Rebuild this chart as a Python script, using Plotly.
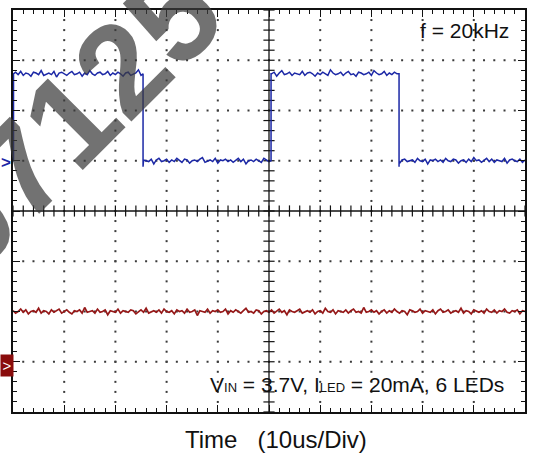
import plotly.graph_objects as go

# Screen: 10 horizontal divisions of 10 us, 8 vertical divisions
t_span = [0, 100]          # us
div_span = [-4, 4]         # divisions

# CH1: PWM input (levels in divisions, edge times in us)
pwm_ground = 1.0
pwm_high = 2.73
pwm_edges = [0.1, 25.4, 50.4, 75.4]      # rise, fall, rise, fall
pwm_undershoot = 0.12

# CH2: LED current
iled_ground = -3.0
iled_level = -2.0

# Acquisition noise in counts (1 count = ripple_unit divisions), evenly spaced in time
ripple_unit = 0.016
pwm_ripple = [
    0, 2, -1, 3, -2, 1, 0, -3, 2, 1, -1, 4, -2, 0, 1, -1, 3, -4, 1, 2,
    0, -2, 1, 3, -1, 0, 2, -3, 1, -1, 4, 0, -2, 1, 2, -1, 0, 3, -2, 1,
    -1, 2, 0, -3, 1, 2, -2, 0, 1, 5, -2, 1, 0, -1, 2, -4, 1, 3, -1, 0,
    2, -2, 1, -1, 3, 0, -2, 2, 1, -3, 0, 1, -1, 2, 4, -2, 0, 1, -1, 3,
    -3, 1, 0, 2, -1, 1, -2, 0, 3, -1, 2, -4, 0, 1, -1, 2, 0, -2, 3, 1,
    -1, 0, 2, -3, 1, 4, -1, 0, 2, -2, 1, 0, -1, 3, -2, 1, 2, 0, -3, 1,
    -1, 2, 0, -2, 5, 1, -1, 0, 2, -2, 1, 3, -1, 0, -3, 2, 1, -1, 0, 2,
    -2, 4, 1, -1, 0, 3, -2, 1, -1, 2, 0, -3, 1, 2, -1, 0, 1, -2, 3, 0,
    -1, 2, -4, 1, 0, 2, -1, 1, -2, 3, 0, -1, 2, 1, -3, 0, 1, -2, 2, -1,
    4, 0, 1, -2, 0, 3, -1, 2, -2, 1, 0, -1, 3, -3, 1, 2, 0, -1, 2, -2, 1,
]
iled_ripple = [
    1, -2, 0, 3, -1, 2, -3, 0, 1, -1, 4, -2, 1, 0, -3, 2, -1, 1, 3, -2,
    0, 2, -1, -3, 1, 0, 2, -2, 5, -1, 0, 1, -2, 3, -1, 0, 2, -4, 1, 0,
    -1, 3, -2, 1, 0, -1, 2, 1, -3, 0, 2, -1, 4, -2, 0, 1, -1, 2, -2, 3,
    0, -1, 1, -3, 2, 0, 1, -2, 3, -1, 0, 2, -5, 1, 0, -1, 3, -2, 1, 0,
    2, -1, 0, 3, -3, 1, -1, 2, 0, -2, 1, 4, -1, 0, -2, 2, 1, -3, 0, 1,
    -1, 2, -2, 0, 3, -1, 1, -4, 2, 0, -1, 1, 3, -2, 0, 1, -1, 2, -3, 0,
    1, -2, 4, 0, -1, 2, -3, 1, 0, -1, 2, -2, 1, 3, -1, 0, -2, 5, -1, 0,
    2, -1, 1, -3, 0, 2, -2, 1, -1, 3, 0, -2, 1, 0, -4, 2, 1, -1, 0, 3,
    -2, 1, 0, -1, 2, -3, 1, 3, -1, 0, 2, -2, 0, 1, -1, 4, -2, 1, 0, -3,
    2, 0, -1, 1, -2, 3, 0, -1, 2, -2, 1, 0, 3, -1, -2, 1, 0, 2, -3, 1, 0,
]

PWM_BLUE = "#1c28a6"
ILED_RED = "#961818"
GRID = "#3a3a3a"
FONT = "Liberation Sans, Arial, Helvetica, sans-serif"
MARK_FONT = "Liberation Sans Narrow, Arial Narrow, Liberation Sans, sans-serif"


def sample_times(n):
    return [t_span[0] + (t_span[1] - t_span[0]) * i / (n - 1) for i in range(n)]


# --- CH1 square wave with its edges ---
pwm_t, pwm_v = [], []
edge_i = 0
level = pwm_ground
for t, r in zip(sample_times(len(pwm_ripple)), pwm_ripple):
    while edge_i < len(pwm_edges) and pwm_edges[edge_i] <= t:
        te = pwm_edges[edge_i]
        rising = edge_i % 2 == 0
        new_level = pwm_high if rising else pwm_ground
        pwm_t += [te, te]
        pwm_v += [level, new_level if rising else new_level - pwm_undershoot]
        if not rising:
            pwm_t.append(te)
            pwm_v.append(new_level)
        level = new_level
        edge_i += 1
    pwm_t.append(t)
    pwm_v.append(level + r * ripple_unit)

# --- CH2 flat LED current ---
iled_t = sample_times(len(iled_ripple))
iled_v = [iled_level + r * ripple_unit for r in iled_ripple]

fig = go.Figure()

# Dotted graticule: dots every minor division along the major lines
dot_x, dot_y = [], []
minor_t = [t_span[0] + 2 * k for k in range(51)]
minor_d = [div_span[0] + 0.2 * k for k in range(41)]
for d in (-3, -2, -1, 1, 2, 3):
    for t in minor_t[1:-1]:
        dot_x.append(t)
        dot_y.append(d)
for t in (10, 20, 30, 40, 60, 70, 80, 90):
    for d in minor_d[1:-1]:
        dot_x.append(t)
        dot_y.append(d)
fig.add_trace(go.Scatter(
    x=dot_x, y=dot_y, mode="markers",
    marker=dict(symbol="square", size=2, color=GRID, line=dict(width=0)),
    hoverinfo="skip", showlegend=False,
))

# Centre cross with tick marks
fig.add_shape(type="line", x0=50, x1=50, y0=div_span[0], y1=div_span[1],
              xref="x", yref="y", line=dict(color="#111", width=1.3))
fig.add_shape(type="line", x0=t_span[0], x1=t_span[1], y0=0, y1=0,
              xref="x", yref="y", line=dict(color="#111", width=1.3))
fig.add_trace(go.Scatter(
    x=minor_t, y=[0] * len(minor_t), mode="markers",
    marker=dict(symbol="line-ns", size=8, line=dict(width=1.2, color="#111")),
    hoverinfo="skip", showlegend=False,
))
fig.add_trace(go.Scatter(
    x=[50] * len(minor_d), y=minor_d, mode="markers",
    marker=dict(symbol="line-ew", size=8, line=dict(width=1.2, color="#111")),
    hoverinfo="skip", showlegend=False,
))

# Channel traces
fig.add_trace(go.Scatter(
    x=pwm_t, y=pwm_v, mode="lines",
    line=dict(color=PWM_BLUE, width=1.5),
    hoverinfo="skip", showlegend=False,
))
fig.add_trace(go.Scatter(
    x=iled_t, y=iled_v, mode="lines",
    line=dict(color=ILED_RED, width=1.7),
    hoverinfo="skip", showlegend=False,
))

axis_common = dict(
    showgrid=False, zeroline=False, showticklabels=False,
    showline=True, linecolor="#111", linewidth=1.5, mirror="ticks",
    ticks="inside", ticklen=7, tickwidth=1, tickcolor="#111",
)
fig.update_xaxes(range=t_span, dtick=10, tick0=0,
                 minor=dict(dtick=2, ticks="inside", ticklen=4, tickcolor="#111", tickwidth=1),
                 **axis_common)
fig.update_yaxes(range=div_span, dtick=1, tick0=0,
                 minor=dict(dtick=0.2, ticks="inside", ticklen=4, tickcolor="#111", tickwidth=1),
                 **axis_common)

annotations = [
    # document watermark
    dict(x=0.114, y=0.731, xref="paper", yref="paper", text="<b>07125</b>",
         showarrow=False, textangle=-45,
         font=dict(family=MARK_FONT, size=130, color="rgba(60,60,60,0.72)"),
         xanchor="center", yanchor="middle"),
    dict(x=0.9727, y=0.948, xref="paper", yref="paper", text="f = 20kHz",
         showarrow=False, xanchor="right", yanchor="middle",
         font=dict(family=FONT, size=21, color="#111")),
    dict(x=0.963, y=0.0676, xref="paper", yref="paper",
         text=("V<span style='font-size:13px'>IN</span> = 3.7V, "
               "I<span style='font-size:13px'>LED</span> = 20mA, 6 LEDs"),
         showarrow=False, xanchor="right", yanchor="middle",
         font=dict(family=FONT, size=21, color="#111")),
    dict(x=0.5137, y=-0.0693, xref="paper", yref="paper",
         text="Time&nbsp;&nbsp;&nbsp;(10us/Div)",
         showarrow=False, xanchor="center", yanchor="middle",
         font=dict(family=FONT, size=24, color="#111")),
    # channel ground markers, flush with the left edge of the page
    dict(x=-0.0254, y=0.621, xref="paper", yref="paper", text="<b>&gt;</b>",
         showarrow=False, xanchor="left", yanchor="middle", borderpad=0,
         font=dict(family=FONT, size=17, color=PWM_BLUE)),
    dict(x=-0.0254, y=0.115, xref="paper", yref="paper", text="&gt;",
         showarrow=False, xanchor="left", yanchor="middle",
         width=12, height=21, borderpad=0, bgcolor="#8a0c0c",
         font=dict(family=FONT, size=15, color="white")),
]

fig.update_layout(
    width=536, height=455,
    margin=dict(l=13, r=11, t=8, b=43, pad=0),
    paper_bgcolor="white", plot_bgcolor="white",
    annotations=annotations,
    showlegend=False,
)

fig.write_html("out.html", config={"displayModeBar": False})
